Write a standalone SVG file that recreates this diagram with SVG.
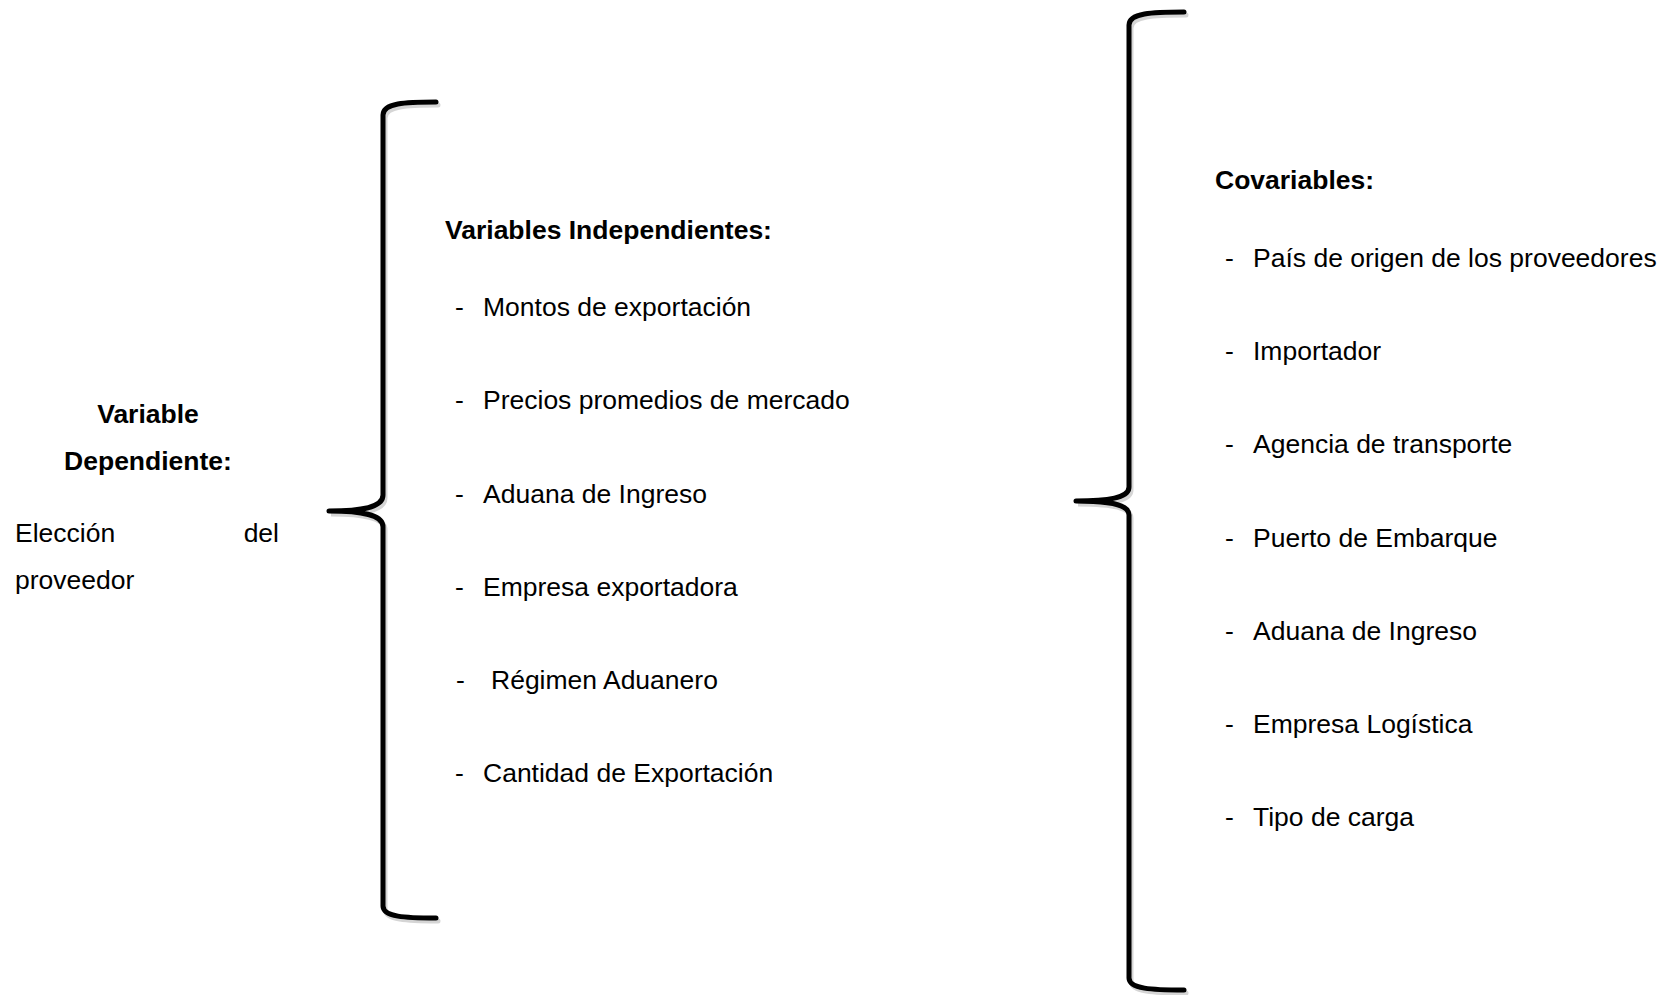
<svg xmlns="http://www.w3.org/2000/svg" width="1680" height="995" viewBox="0 0 1680 995">
<style>
text{font-family:"Liberation Sans",Arial,sans-serif;font-size:26.5px;fill:#000}
.b{font-weight:bold}
.brace{fill:none;stroke:#000;stroke-width:5;stroke-linecap:round;stroke-linejoin:round}
.shadow{fill:none;stroke:#888;stroke-width:5;stroke-opacity:0.35;stroke-linecap:round}
</style>
<rect width="1680" height="995" fill="#fff"/>
<g id="connectors">
<g id="brace-left">
<path class="shadow" transform="translate(2,3)" d="M436,102 C405,102 383,103 383,115 L383,495 C383,505 370,511 329,511 C370,511 383,517 383,527 L383,906 C383,917 405,918 436,918"/>
<path class="brace" d="M436,102 C405,102 383,103 383,115 L383,495 C383,505 370,511 329,511 C370,511 383,517 383,527 L383,906 C383,917 405,918 436,918"/>
</g>
<g id="brace-right">
<path class="shadow" transform="translate(2,3)" d="M1184,12 C1152,12 1129,13 1129,25 L1129,487 C1129,496 1116,501 1076,501 C1116,501 1129,506 1129,515 L1129,978 C1129,989 1152,990 1184,990"/>
<path class="brace" d="M1184,12 C1152,12 1129,13 1129,25 L1129,487 C1129,496 1116,501 1076,501 C1116,501 1129,506 1129,515 L1129,978 C1129,989 1152,990 1184,990"/>
</g>
</g>
<g id="dependiente">
<text class="b" x="148" y="423" text-anchor="middle">Variable</text>
<text class="b" x="148" y="470" text-anchor="middle">Dependiente:</text>
<text x="15" y="542">Elección</text>
<text x="279" y="542" text-anchor="end">del</text>
<text x="15" y="589">proveedor</text>
</g>
<g id="independientes">
<text class="b" x="445" y="239">Variables Independientes:</text>
<text x="455" y="316">-</text><text x="483" y="316">Montos de exportación</text>
<text x="455" y="409">-</text><text x="483" y="409">Precios promedios de mercado</text>
<text x="455" y="503">-</text><text x="483" y="503">Aduana de Ingreso</text>
<text x="455" y="596">-</text><text x="483" y="596">Empresa exportadora</text>
<text x="456" y="689">-</text><text x="491" y="689">Régimen Aduanero</text>
<text x="455" y="782">-</text><text x="483" y="782">Cantidad de Exportación</text>
</g>
<g id="covariables">
<text class="b" x="1215" y="189">Covariables:</text>
<text x="1225" y="267">-</text><text x="1253" y="267">País de origen de los proveedores</text>
<text x="1225" y="360">-</text><text x="1253" y="360">Importador</text>
<text x="1225" y="453">-</text><text x="1253" y="453">Agencia de transporte</text>
<text x="1225" y="547">-</text><text x="1253" y="547">Puerto de Embarque</text>
<text x="1225" y="640">-</text><text x="1253" y="640">Aduana de Ingreso</text>
<text x="1225" y="733">-</text><text x="1253" y="733">Empresa Logística</text>
<text x="1225" y="826">-</text><text x="1253" y="826">Tipo de carga</text>
</g>
</svg>
